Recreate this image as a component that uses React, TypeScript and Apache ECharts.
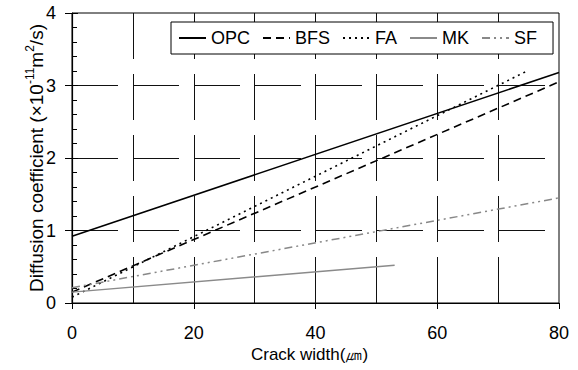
import React, { useEffect, useRef } from "react";
import * as echarts from "echarts";

// Data (x: crack width µm, y: diffusion coefficient)
const seriesNames = ["OPC", "BFS", "FA", "MK", "SF"];
const opcData = [[0, 0.92], [80, 3.18]];
const bfsData = [[0, 0.15], [80, 3.05]];
const faData = [[0, 0.08], [75, 3.21]];
const mkData = [[0, 0.15], [53, 0.52]];
const sfData = [[0, 0.21], [80, 1.45]];

const FONT = "'Liberation Sans', Arial, Helvetica, sans-serif";
const gridDash = { color: "#111", width: 1, type: [46, 15] as number[] };

export default function App() {
  const ref = useRef<HTMLDivElement>(null);
  useEffect(() => {
    if (!ref.current) return;
    const chart = echarts.init(ref.current, null, { renderer: "svg" });
    chart.setOption({
      animation: false,
      backgroundColor: "#fff",
      textStyle: { fontFamily: FONT },
      grid: {
        left: 72,
        right: 19,
        top: 13,
        bottom: 67,
        show: true,
        borderColor: "#000",
        borderWidth: 1,
        backgroundColor: "transparent",
      },
      legend: {
        data: seriesNames,
        left: 171,
        top: 22,
        orient: "horizontal",
        itemWidth: 27,
        itemHeight: 14,
        itemGap: 12,
        padding: [7, 16, 7, 7],
        backgroundColor: "#fff",
        borderColor: "#000",
        borderWidth: 1,
        borderRadius: 0,
        itemStyle: { opacity: 0, borderWidth: 0 },
        textStyle: { fontSize: 18, color: "#000", fontFamily: FONT },
      },
      xAxis: {
        type: "value",
        min: 0,
        max: 80,
        interval: 20,
        name: "Crack width(㎛)",
        nameLocation: "middle",
        nameGap: 43,
        nameMoveOverlap: false,
        nameTextStyle: { fontSize: 17, lineHeight: 17, color: "#000", fontFamily: FONT, padding: [0, 12, 0, 0] },
        axisLine: { show: true, lineStyle: { color: "#000", width: 1.2 } },
        axisTick: { show: true, inside: false, length: 6, lineStyle: { color: "#000" } },
        axisLabel: { fontSize: 18, lineHeight: 18, color: "#000", margin: 21, fontFamily: FONT },
        splitLine: { show: true, showMinLine: false, showMaxLine: false, lineStyle: gridDash },
        minorTick: { show: false, splitNumber: 2 },
        minorSplitLine: { show: true, lineStyle: gridDash },
      },
      yAxis: [
        {
          type: "value",
          position: "left",
          min: 0,
          max: 4,
          interval: 1,
          name: "{n|Diffusion coefficient (×10}{s|-11}{n|m}{s|2}{n|/s)}",
          nameLocation: "middle",
          nameGap: 26,
          nameMoveOverlap: false,
          nameRotate: 90,
          nameTextStyle: {
            color: "#000",
            fontFamily: FONT,
            rich: {
              n: { fontSize: 19, color: "#000", fontFamily: FONT, lineHeight: 22, verticalAlign: "bottom" },
              s: { fontSize: 12, color: "#000", fontFamily: FONT, lineHeight: 22, verticalAlign: "top" },
            },
          },
          axisLine: { show: true, lineStyle: { color: "#000", width: 1.2 } },
          axisTick: { show: true, inside: false, length: 7, lineStyle: { color: "#000" } },
          axisLabel: { fontSize: 18, color: "#000", margin: 16, fontFamily: FONT },
          splitLine: { show: true, showMinLine: false, showMaxLine: false, lineStyle: gridDash },
        },
        {
          type: "value",
          position: "left",
          offset: 0,
          min: 0,
          max: 4,
          interval: 1,
          axisLine: { show: false },
          axisTick: { show: true, inside: true, length: 6, lineStyle: { color: "#000" } },
          minorTick: { show: true, splitNumber: 5, length: 5, lineStyle: { color: "#000" } },
          axisLabel: { show: false },
          splitLine: { show: false },
        },
      ],
      series: [
        {
          name: "OPC",
          type: "line",
          data: opcData,
          symbol: "none",
          lineStyle: { color: "#000", width: 1.5, type: "solid" },
          itemStyle: { color: "#000" },
        },
        {
          name: "BFS",
          type: "line",
          data: bfsData,
          symbol: "none",
          lineStyle: { color: "#000", width: 1.6, type: [8, 5] },
          itemStyle: { color: "#000" },
        },
        {
          name: "FA",
          type: "line",
          data: faData,
          symbol: "none",
          lineStyle: { color: "#000", width: 1.6, type: [2, 4] },
          itemStyle: { color: "#000" },
        },
        {
          name: "MK",
          type: "line",
          data: mkData,
          symbol: "none",
          lineStyle: { color: "#8a8a8a", width: 1.4, type: "solid" },
          itemStyle: { color: "#8a8a8a" },
        },
        {
          name: "SF",
          type: "line",
          data: sfData,
          symbol: "none",
          lineStyle: { color: "#888", width: 1.5, type: [8, 4, 2, 4, 2, 4] },
          itemStyle: { color: "#888" },
        },
      ],
    });
    return () => chart.dispose();
  }, []);
  return <div ref={ref} style={{ width: 578, height: 370, position: "absolute", left: 0, top: 0 }} />;
}
